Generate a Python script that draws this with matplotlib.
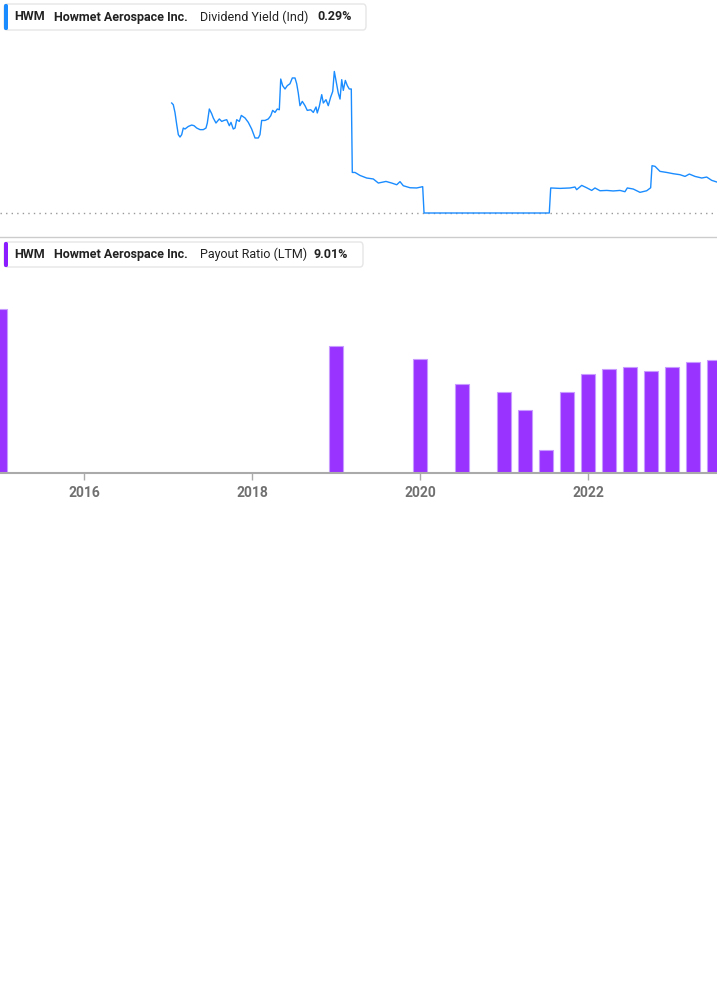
import matplotlib
matplotlib.use("Agg")
import matplotlib.pyplot as plt
from matplotlib.patches import FancyBboxPatch
from matplotlib.lines import Line2D

plt.rcParams['font.family'] = ['Roboto', 'DejaVu Sans']

# Dividend yield (Ind), % -- decimal year
yield_years = [
    2017.044, 2017.063, 2017.083, 2017.104, 2017.123, 2017.143, 2017.163, 2017.182, 2017.202, 2017.242,
    2017.282, 2017.310, 2017.342, 2017.381, 2017.420, 2017.452, 2017.468, 2017.492, 2017.520, 2017.539,
    2017.571, 2017.611, 2017.639, 2017.667, 2017.699, 2017.730, 2017.750, 2017.777, 2017.798, 2017.818,
    2017.849, 2017.873, 2017.917, 2017.956, 2017.996, 2018.036, 2018.075, 2018.095, 2018.115, 2018.155,
    2018.194, 2018.223, 2018.246, 2018.274, 2018.301, 2018.325, 2018.342, 2018.365, 2018.393, 2018.420,
    2018.452, 2018.480, 2018.512, 2018.532, 2018.551, 2018.571, 2018.599, 2018.631, 2018.658, 2018.699,
    2018.730, 2018.762, 2018.777, 2018.801, 2018.830, 2018.849, 2018.881, 2018.908, 2018.937, 2018.961,
    2018.980, 2019.000, 2019.027, 2019.048, 2019.068, 2019.087, 2019.111, 2019.135, 2019.158, 2019.182,
    2019.194, 2019.226, 2019.286, 2019.365, 2019.444, 2019.504, 2019.595, 2019.663, 2019.723, 2019.762,
    2019.801, 2019.881, 2019.961, 2020.032, 2020.048, 2021.539, 2021.556, 2021.667, 2021.786, 2021.845,
    2021.865, 2021.925, 2021.984, 2022.044, 2022.083, 2022.143, 2022.223, 2022.301, 2022.381, 2022.440,
    2022.468, 2022.539, 2022.619, 2022.699, 2022.746, 2022.762, 2022.798, 2022.857, 2022.937, 2023.016,
    2023.095, 2023.155, 2023.206, 2023.274, 2023.354, 2023.413, 2023.473, 2023.532,
]
yield_vals = [
    1.028, 1.012, 0.940, 0.825, 0.732, 0.710, 0.732, 0.794, 0.785, 0.809,
    0.822, 0.816, 0.794, 0.779, 0.779, 0.794, 0.841, 0.972, 0.928, 0.888,
    0.841, 0.879, 0.856, 0.865, 0.872, 0.816, 0.847, 0.785, 0.794, 0.872,
    0.856, 0.912, 0.888, 0.847, 0.785, 0.701, 0.701, 0.732, 0.865, 0.865,
    0.879, 0.909, 0.959, 0.940, 0.972, 0.965, 1.252, 1.190, 1.159, 1.190,
    1.208, 1.262, 1.262, 1.208, 1.121, 1.003, 1.043, 1.003, 0.959, 0.965,
    0.940, 0.991, 0.935, 0.996, 1.106, 1.028, 1.059, 1.003, 1.084, 1.136,
    1.323, 1.239, 1.121, 1.065, 1.246, 1.146, 1.239, 1.190, 1.159, 1.159,
    0.379, 0.379, 0.351, 0.327, 0.318, 0.280, 0.295, 0.280, 0.264, 0.293,
    0.255, 0.236, 0.234, 0.246, 0.000, 0.000, 0.234, 0.230, 0.234, 0.243,
    0.218, 0.258, 0.236, 0.211, 0.234, 0.208, 0.211, 0.206, 0.211, 0.199,
    0.234, 0.224, 0.193, 0.208, 0.236, 0.442, 0.436, 0.389, 0.379, 0.367,
    0.358, 0.342, 0.364, 0.342, 0.327, 0.336, 0.305, 0.290,
]

# Payout ratio (LTM), %
payout_years = [2015.0, 2019.0, 2020.0, 2020.5, 2021.0, 2021.25, 2021.5, 2021.75,
                2022.0, 2022.25, 2022.5, 2022.75, 2023.0, 2023.25, 2023.5]
payout_vals = [13.12, 10.18, 9.14, 7.09, 6.48, 5.04, 1.86, 6.45,
               7.89, 8.32, 8.50, 8.13, 8.50, 8.85, 9.01]

tick_years = [2016, 2018, 2020, 2022]

W, H = 717, 1005
XMIN, XMAX = 2015.0, 2015.0 + W / 84.0
BLUE = '#1a8cff'
PURPLE = '#9933ff'
TXT = '#222222'


def box(x0, y0, x1, y1):
    # pixel box (top-left origin) -> figure fraction rect
    return [x0 / W, 1 - y1 / H, (x1 - x0) / W, (y1 - y0) / H]


fig = plt.figure(figsize=(W / 100, H / 100), dpi=100)

# --- top: dividend yield line ---
ax1 = fig.add_axes(box(0, 40, W, 225))
ax1.plot(yield_years, yield_vals, color=BLUE, lw=1.0)
ax1.axhline(0, color='#999999', lw=1.0, ls=(0, (1, 3)), zorder=0)
ax1.set_xlim(XMIN, XMAX)
ax1.set_ylim(-12 / 107, 173 / 107)
ax1.axis('off')

# --- bottom: payout ratio bars ---
ax2 = fig.add_axes(box(0, 277, W, 473))
ax2.bar(payout_years, payout_vals, width=15 / 84, color=PURPLE,
        edgecolor='#c79bff', linewidth=0.8)
ax2.set_xlim(XMIN, XMAX)
ax2.set_ylim(0, 196 / 12.5)
for s in ['top', 'right', 'left']:
    ax2.spines[s].set_visible(False)
ax2.spines['bottom'].set_color('#aaaaaa')
ax2.spines['bottom'].set_linewidth(1.5)
ax2.set_yticks([])
ax2.set_xticks(tick_years)
ax2.set_xticklabels([str(y) for y in tick_years])
ax2.tick_params(axis='x', length=5, width=1, color='#aaaaaa', labelcolor='#707070',
                labelsize=10, pad=4)
for lab in ax2.get_xticklabels():
    lab.set_fontweight('bold')

# separator between panels
fig.add_artist(Line2D([0, 1], [1 - 237 / H, 1 - 237 / H], transform=fig.transFigure,
                      color='#cccccc', lw=1.0))


def legend_box(y0, y1, x1, color, metric, value, vx):
    r = box(4, y0, x1, y1)
    fig.add_artist(FancyBboxPatch((r[0], r[1]), r[2], r[3], boxstyle='round,pad=0,rounding_size=0.004',
                                  transform=fig.transFigure, facecolor='white',
                                  edgecolor='#e6e6e6', lw=1.0))
    s = box(4, y0, 8, y1)
    fig.add_artist(FancyBboxPatch((s[0], s[1]), s[2], s[3], boxstyle='round,pad=0,rounding_size=0.002',
                                  transform=fig.transFigure, facecolor=color, edgecolor='none'))
    yc = 1 - ((y0 + y1) / 2) / H
    fig.text(14 / W, yc, 'HWM', fontsize=9, fontweight='bold', color=TXT, va='center')
    fig.text(54 / W, yc, 'Howmet Aerospace Inc.', fontsize=9, fontweight='bold', color=TXT, va='center')
    fig.text(200 / W, yc, metric, fontsize=9, color=TXT, va='center')
    fig.text(vx / W, yc, value, fontsize=9, fontweight='bold', color=TXT, va='center')


legend_box(4, 30, 366, BLUE, 'Dividend Yield (Ind)', '0.29%', 317)
legend_box(242, 267, 363, '#8a1cff', 'Payout Ratio (LTM)', '9.01%', 314)

fig.savefig('out.png', dpi=100, facecolor='white')
